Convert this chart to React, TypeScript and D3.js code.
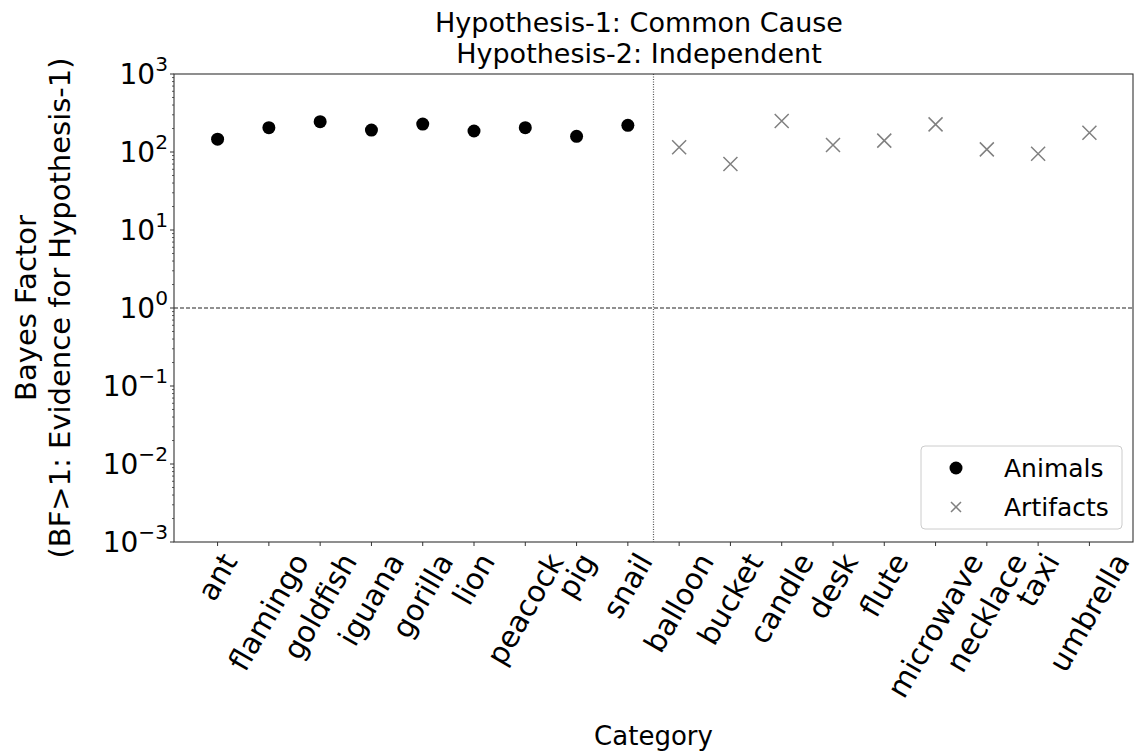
import * as d3 from 'd3';
import React, { useMemo } from 'react';

// categories and Bayes factors
const animals = ['ant', 'flamingo', 'goldfish', 'iguana', 'gorilla', 'lion', 'peacock', 'pig', 'snail'];
const animalBF = [146, 205, 245, 191, 228, 186, 205, 159, 220];
const artifacts = ['balloon', 'bucket', 'candle', 'desk', 'flute', 'microwave', 'necklace', 'taxi', 'umbrella'];
const artifactBF = [115, 70, 250, 123, 140, 226, 108, 95, 177];
const yExponents = [-3, -2, -1, 0, 1, 2, 3];
const titleLines = ['Hypothesis-1: Common Cause', 'Hypothesis-2: Independent'];
const yLabelLines = ['Bayes Factor', '(BF>1: Evidence for Hypothesis-1)'];
const xLabel = 'Category';
const legendNames = ['Animals', 'Artifacts'];

const FONT = '"DejaVu Sans", sans-serif';

function App(): any {
  const width = 1137;
  const height = 755;
  const margin = { top: 74, right: 4, bottom: 213, left: 174 };
  const fsXTick = 29.5;
  const fsYTick = 28;
  const fsTitle = 27;
  const fsYLabel = 29;
  const fsXLabel = 26;
  const fsLegend = 25;

  const categories = [...animals, ...artifacts];

  const xScale = d3.scaleLinear()
    .domain([-0.85, categories.length - 1 + 0.85])
    .range([margin.left, width - margin.right]);

  const yScale = d3.scaleLog()
    .domain([1e-3, 1e3])
    .range([height - margin.bottom, margin.top]);

  const x0 = margin.left, x1 = width - margin.right;
  const y0 = height - margin.bottom, y1 = margin.top;

  // text widths for rotated tick label placement
  const widths = useMemo(() => {
    const ctx = document.createElement('canvas').getContext('2d') as CanvasRenderingContext2D;
    ctx.font = `${fsXTick}px "DejaVu Sans"`;
    return categories.map((c) => ctx.measureText(c).width);
  }, []);

  const minorTicks: number[] = [];
  yExponents.slice(0, -1).forEach((e) => {
    for (let k = 2; k < 10; k++) minorTicks.push(k * Math.pow(10, e));
  });

  const ang = Math.PI / 3;
  const th = fsXTick * 1.1;
  const labelTop = y0 + 6;
  const xs = 7; // half size of x marker

  return (
    <svg width={width} height={height} style={{ position: 'absolute', left: 0, top: 0, background: '#fff' }}
      fontFamily={FONT}>
      {/* title */}
      {titleLines.map((t, i) => (
        <text key={t} x={639} y={32 + i * 31} textAnchor="middle" fontSize={fsTitle}>{t}</text>
      ))}

      {/* reference lines */}
      <line x1={x0} x2={x1} y1={yScale(1)} y2={yScale(1)} stroke="#222" strokeWidth={1.2} strokeDasharray="4,2" />
      <line x1={xScale(8.5)} x2={xScale(8.5)} y1={y1} y2={y0} stroke="#555" strokeWidth={1.2} strokeDasharray="1,1.5" />

      {/* points */}
      {animalBF.map((v, i) => (
        <circle key={'a' + i} cx={xScale(i)} cy={yScale(v)} r={6.5} fill="#000" />
      ))}
      {artifactBF.map((v, i) => {
        const cx = xScale(i + animals.length), cy = yScale(v);
        return (
          <path key={'f' + i} d={`M${cx - xs},${cy - xs}L${cx + xs},${cy + xs}M${cx - xs},${cy + xs}L${cx + xs},${cy - xs}`}
            stroke="#808080" strokeWidth={1.5} fill="none" />
        );
      })}

      {/* frame */}
      <rect x={x0} y={y1} width={x1 - x0} height={y0 - y1} fill="none" stroke="#333" strokeWidth={1.1} />

      {/* y axis */}
      {yExponents.map((e) => {
        const y = yScale(Math.pow(10, e));
        return (
          <g key={e}>
            <line x1={x0 - 4} x2={x0} y1={y} y2={y} stroke="#333" />
            <text x={x0 - 6} y={y + 10} textAnchor="end" fontSize={fsYTick}>
              10<tspan dy={-13} fontSize={fsYTick * 0.72}>{e < 0 ? '\u2212' + Math.abs(e) : e}</tspan>
            </text>
          </g>
        );
      })}
      {minorTicks.map((v, i) => (
        <line key={'m' + i} x1={x0 - 2} x2={x0} y1={yScale(v)} y2={yScale(v)} stroke="#333" strokeWidth={0.8} />
      ))}

      {/* x axis */}
      {categories.map((c, i) => {
        const x = xScale(i);
        const w = widths[i];
        const bh = w * Math.sin(ang) + th * Math.cos(ang);
        const cy = labelTop + bh / 2;
        return (
          <g key={c}>
            <line x1={x} x2={x} y1={y0} y2={y0 + 4} stroke="#333" />
            <text x={x} y={cy} textAnchor="middle" dominantBaseline="central" fontSize={fsXTick}
              transform={`rotate(-60,${x},${cy})`}>{c}</text>
          </g>
        );
      })}

      {/* axis labels */}
      <text x={(x0 + x1) / 2} y={745} textAnchor="middle" fontSize={fsXLabel}>{xLabel}</text>
      {yLabelLines.map((t, i) => (
        <text key={t} transform={`translate(${36 + i * 34},${(y0 + y1) / 2}) rotate(-90)`} textAnchor="middle" fontSize={fsYLabel}>{t}</text>
      ))}

      {/* legend */}
      <g>
        <rect x={921} y={446} width={201} height={83} rx={4} fill="#fff" fillOpacity={0.8} stroke="#ccc" strokeWidth={1} />
        <circle cx={956} cy={468} r={6.5} fill="#000" />
        <path d="M951,502L961,512M951,512L961,502" stroke="#808080" strokeWidth={1.5} />
        <text x={1004} y={477} fontSize={fsLegend}>{legendNames[0]}</text>
        <text x={1004} y={516} fontSize={fsLegend}>{legendNames[1]}</text>
      </g>
    </svg>
  );
}

export default App;
